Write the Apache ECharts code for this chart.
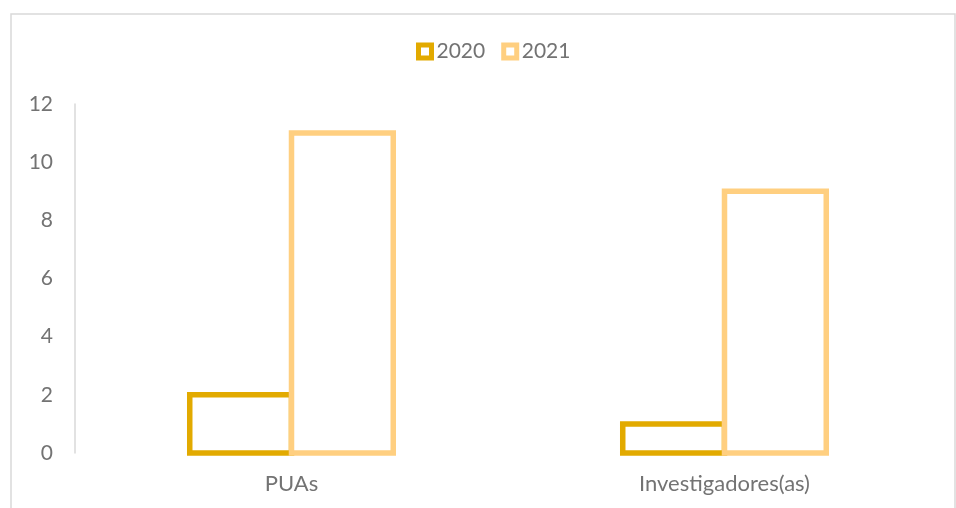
<!DOCTYPE html>
<html>
<head>
<meta charset="utf-8">
<script src="https://cdn.jsdelivr.net/npm/echarts@6/dist/echarts.min.js"></script>
<style>html,body{margin:0;padding:0;background:#fff}#c{width:956px;height:508px}</style>
</head>
<body>
<div id="c"></div>
<script>
const categories = ['PUAs', 'Investigadores(as)'];
const seriesNames = ['2020', '2021'];
const values2020 = [2, 1];
const values2021 = [11, 9];
const colors = ['#E2AA00', '#FFCF80'];

const chart = echarts.init(document.getElementById('c'));
const font = 'Lato, "Open Sans", sans-serif';
const textColor = '#737373';
const groupRatio = 0.47;
const strokeW = 5.5;

function makeRender(seriesIdx) {
  return function (params, api) {
    const cat = api.value(0), val = api.value(1);
    const base = api.coord([cat, 0]);
    const top = api.coord([cat, val]);
    const band = api.size([1, 0])[0];
    const bw = band * groupRatio / 2;
    const x = base[0] - bw + seriesIdx * bw;
    return {
      type: 'rect',
      shape: { x: x, y: top[1], width: bw, height: base[1] - top[1] },
      style: { fill: '#fff', stroke: colors[seriesIdx], lineWidth: strokeW }
    };
  };
}

chart.setOption({
  animation: false,
  textStyle: { fontFamily: font },
  graphic: [{
    type: 'rect', shape: { x: 11, y: 14, width: 944, height: 510 },
    style: { fill: 'none', stroke: '#d9d9d9', lineWidth: 1.5 }, silent: true
  }],
  legend: {
    top: 36, left: 411,
    itemWidth: 13, itemHeight: 13, itemGap: 16,
    icon: 'rect',
    textStyle: { fontSize: 21, color: textColor, fontFamily: font },
    data: [
      { name: seriesNames[0], itemStyle: { color: '#fff', borderColor: colors[0], borderWidth: 5 } },
      { name: seriesNames[1], itemStyle: { color: '#fff', borderColor: colors[1], borderWidth: 5 } }
    ]
  },
  grid: { left: 75, right: 15, top: 104, bottom: 55, containLabel: false },
  xAxis: {
    type: 'category', data: categories,
    axisLine: { show: false }, axisTick: { show: false },
    axisLabel: { fontSize: 22, color: textColor, margin: 20, fontFamily: font }
  },
  yAxis: {
    type: 'value', min: 0, max: 12, interval: 2,
    splitLine: { show: false },
    axisLine: { show: true, lineStyle: { color: '#d9d9d9', width: 1.5 } },
    axisTick: { show: false },
    axisLabel: { fontSize: 21, color: textColor, margin: 22, fontFamily: font }
  },
  series: [
    { name: seriesNames[0], type: 'custom', renderItem: makeRender(0), clip: false,
      encode: { x: 0, y: 1 },
      itemStyle: { color: colors[0] },
      data: values2020.map((v, i) => [i, v]) },
    { name: seriesNames[1], type: 'custom', renderItem: makeRender(1), clip: false,
      encode: { x: 0, y: 1 },
      itemStyle: { color: colors[1] },
      data: values2021.map((v, i) => [i, v]) }
  ]
});
</script>
</body>
</html>
